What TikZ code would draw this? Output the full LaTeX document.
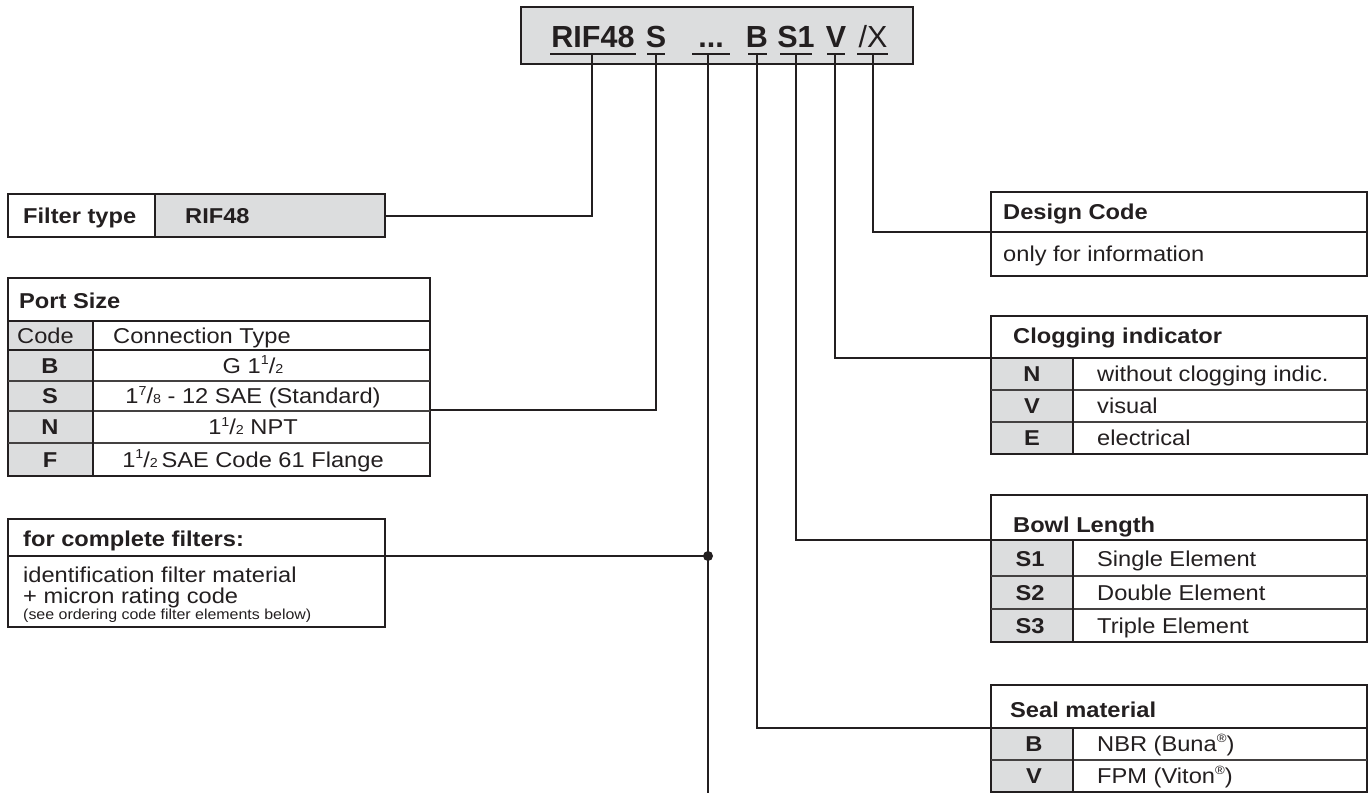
\documentclass[tikz,border=0pt]{standalone}
\usepackage{fontspec}
\setmainfont{Liberation Sans}[FakeStretch=1.1]
\newfontfamily\codefont{Liberation Sans}
\definecolor{ln}{HTML}{231F20}
\definecolor{gr}{HTML}{DCDDDE}
\tikzset{
 frame/.style={draw=ln, line width=2pt, inner sep=0pt, outer sep=0pt},
 thinsep/.style={draw=ln!85, line width=1.1pt},
 hsep/.style={draw=ln, line width=2pt},
 conn/.style={draw=ln, line width=2pt},
 tx/.style={inner sep=0pt, anchor=base west, font=\fontsize{21.5}{24}\selectfont, text=ln},
 txc/.style={tx, anchor=base},
 bt/.style={tx, font=\fontsize{21.5}{24}\selectfont\bfseries},
 btc/.style={bt, anchor=base},
 smalltx/.style={tx, font=\fontsize{14.5}{16}\selectfont},
 codetx/.style={inner sep=0pt, anchor=base, font=\codefont\fontsize{30.5}{32}\selectfont\bfseries, text=ln},
 dotst/.style={circle, fill=ln, minimum size=10pt, inner sep=0pt},
}
\newcommand\bx[6]{\node[frame,#6,minimum width={#4-#2},minimum height={#5-#3}] (#1) at ({(#2+#4)/2},{(#3+#5)/2}) {};}
\newcommand\fr[2]{\raisebox{0.38em}{\fontsize{13}{13}\selectfont #1}/{\fontsize{13}{13}\selectfont #2}}
\newcommand\regm{\raisebox{0.42em}{\fontsize{12}{12}\selectfont ®}}
\begin{document}
\begin{tikzpicture}[x=1pt,y=-1pt]
\useasboundingbox (0,0) rectangle (1369,793);

% ---------- top code box ----------
\bx{code}{521}{7}{913}{64}{fill=gr}
\node[codetx] (cRIF) at (593,47) {RIF48};
\node[codetx] (cS) at (656,47) {S};
\node[codetx] (cDots) at (711,47) {...};
\node[codetx] (cB) at (757,47) {B};
\node[codetx] (cS1) at (796,47) {S1};
\node[codetx] (cV) at (836,47) {V};
\node[codetx, font=\codefont\fontsize{30.5}{32}\selectfont] (cX) at (873,47) {/X};
\draw[hsep] (550,54) -- (636,54);
\draw[hsep] (647,54) -- (665,54);
\draw[hsep] (692,54) -- (730,54);
\draw[hsep] (748,54) -- (767,54);
\draw[hsep] (780,54) -- (812,54);
\draw[hsep] (827,54) -- (845,54);
\draw[hsep] (857,54) -- (888,54);
\coordinate (tRIF) at (592,54);
\coordinate (tS) at (656,54);
\coordinate (tDots) at (708,54);
\coordinate (tB) at (757,54);
\coordinate (tS1) at (796,54);
\coordinate (tV) at (835,54);
\coordinate (tX) at (873,54);

% ---------- Filter type ----------
\bx{ftl}{8}{194}{155}{237}{fill=white}
\bx{ftv}{155}{194}{385}{237}{fill=gr}
\node[bt] (ftt) at (23,223) {Filter type};
\node[bt] (ftr) at (185,223) {RIF48};

% ---------- Port size ----------
\bx{ps}{8}{278}{430}{476}{fill=white}
\fill[gr] (9,322) rectangle (93,475);
\draw[hsep] (8,321) -- (430,321);
\draw[hsep] (8,350) -- (430,350);
\draw[thinsep] (8,381) -- (430,381);
\draw[thinsep] (8,411) -- (430,411);
\draw[thinsep] (8,443) -- (430,443);
\draw[hsep] (93,321) -- (93,476);
\node[bt] (pst) at (19,308) {Port Size};
\node[tx] (psc) at (17,343) {Code};
\node[tx] (psct) at (113,343) {Connection Type};
\node[btc] (psB) at (50,373) {B};
\node[txc] (psBt) at (253,373) {G 1\fr{1}{2}};
\node[btc] (psS) at (50,403.5) {S};
\node[txc] (psSt) at (253,403.5) {1\fr{7}{8} - 12 SAE (Standard)};
\node[btc] (psN) at (50,434.5) {N};
\node[txc] (psNt) at (253,434.5) {1\fr{1}{2} NPT};
\node[btc] (psF) at (50,467) {F};
\node[txc] (psFt) at (253,467) {1\fr{1}{2}\,SAE Code 61 Flange};
\coordinate (psJ) at (430,410);

% ---------- complete filters ----------
\bx{cf}{8}{519}{385}{627}{fill=white}
\draw[hsep] (8,556) -- (385,556);
\node[bt] (cft) at (23,546) {for complete filters:};
\node[tx] (cf1) at (23,582) {identification filter material};
\node[tx] (cf2) at (23,603) {+ micron rating code};
\node[smalltx] (cf3) at (23,619.5) {(see ordering code filter elements below)};
\coordinate (cfJ) at (385,556);

% ---------- Design code ----------
\bx{dc}{991}{192}{1367}{276}{fill=white}
\draw[hsep] (991,232) -- (1367,232);
\node[bt] (dct) at (1003,219.5) {Design Code};
\node[tx] (dc1) at (1003,261) {only for information};
\coordinate (dcJ) at (991,232);

% ---------- Clogging indicator ----------
\bx{ci}{991}{316}{1367}{454}{fill=white}
\fill[gr] (992,359) rectangle (1073,453);
\draw[hsep] (991,358) -- (1367,358);
\draw[thinsep] (991,390) -- (1367,390);
\draw[thinsep] (991,422) -- (1367,422);
\draw[hsep] (1073,358) -- (1073,454);
\node[bt] (cit) at (1013,343) {Clogging indicator};
\node[btc] (ciN) at (1032,381.5) {N};
\node[tx] (ciNt) at (1097,381.5) {without clogging indic.};
\node[btc] (ciV) at (1032,413.5) {V};
\node[tx] (ciVt) at (1097,413.5) {visual};
\node[btc] (ciE) at (1032,445.5) {E};
\node[tx] (ciEt) at (1097,445.5) {electrical};
\coordinate (ciJ) at (991,358);

% ---------- Bowl length ----------
\bx{bl}{991}{495}{1367}{642}{fill=white}
\fill[gr] (992,541) rectangle (1073,641);
\draw[hsep] (991,540) -- (1367,540);
\draw[thinsep] (991,576) -- (1367,576);
\draw[thinsep] (991,609) -- (1367,609);
\draw[hsep] (1073,540) -- (1073,642);
\node[bt] (blt) at (1013,532) {Bowl Length};
\node[btc] (bl1) at (1030,566) {S1};
\node[tx] (bl1t) at (1097,566) {Single Element};
\node[btc] (bl2) at (1030,600) {S2};
\node[tx] (bl2t) at (1097,600) {Double Element};
\node[btc] (bl3) at (1030,633) {S3};
\node[tx] (bl3t) at (1097,633) {Triple Element};
\coordinate (blJ) at (991,540);

% ---------- Seal material ----------
\bx{sm}{991}{685}{1367}{792}{fill=white}
\fill[gr] (992,729) rectangle (1073,791);
\draw[hsep] (991,728) -- (1367,728);
\draw[thinsep] (991,760) -- (1367,760);
\draw[hsep] (1073,728) -- (1073,792);
\node[bt] (smt) at (1010,717) {Seal material};
\node[btc] (smB) at (1034,751.5) {B};
\node[tx] (smBt) at (1097,751.5) {NBR (Buna\regm)};
\node[btc] (smV) at (1034,783.5) {V};
\node[tx] (smVt) at (1097,783.5) {FPM (Viton\regm)};
\coordinate (smJ) at (991,728);

% ---------- connectors ----------
\coordinate (bot) at (708,793);
\draw[conn] (ftv.east) -| (tRIF);
\draw[conn] (psJ) -| (tS);
\draw[conn] (tDots) -- (bot);
\draw[conn] (cfJ) -- (cfJ -| tDots);
\node[dotst] (dot) at (cfJ -| tDots) {};
\draw[conn] (tB) |- (smJ);
\draw[conn] (tS1) |- (blJ);
\draw[conn] (tV) |- (ciJ);
\draw[conn] (tX) |- (dcJ);
\end{tikzpicture}
\end{document}
